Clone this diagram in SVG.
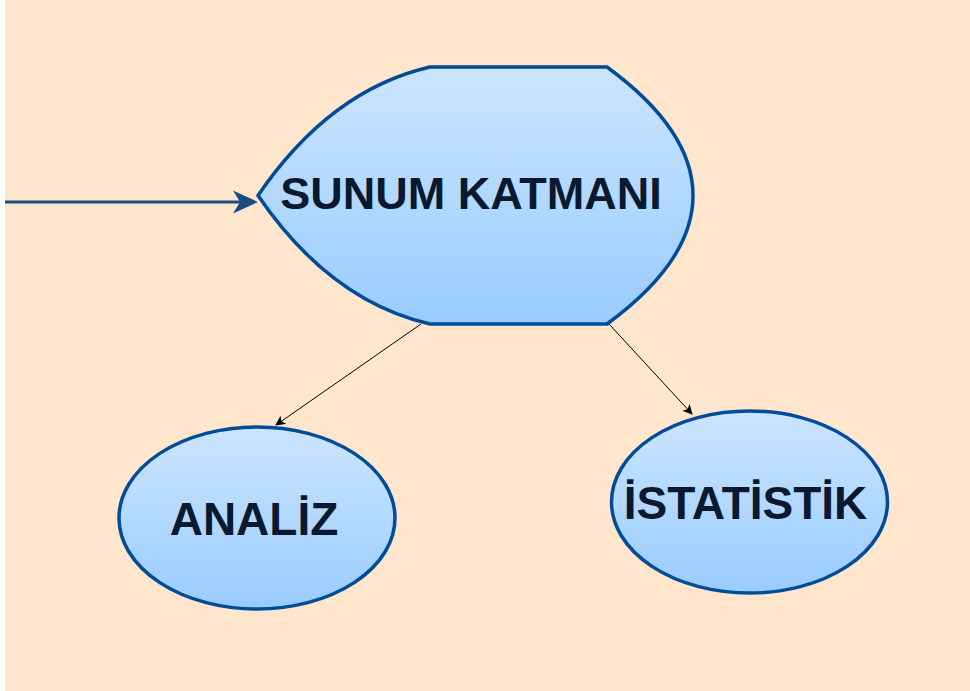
<svg xmlns="http://www.w3.org/2000/svg" width="970" height="691" viewBox="0 0 970 691">
<defs>
<linearGradient id="g" x1="0" y1="0" x2="0" y2="1">
<stop offset="0" stop-color="#CCE5FF"/>
<stop offset="1" stop-color="#99CCFF"/>
</linearGradient>
<marker id="ah" viewBox="0 0 10 10" refX="9" refY="5" markerWidth="10" markerHeight="10" markerUnits="userSpaceOnUse" orient="auto">
<path d="M0,0 L10,5 L0,10 L2.5,5 Z" fill="#000"/>
</marker>
</defs>
<style>
.n{fill:url(#g);stroke:#004C99;stroke-width:3.5}
.t{font-family:"Liberation Sans",Arial,sans-serif;font-weight:bold;fill:#0A1930;text-anchor:middle}
.c{stroke:#000;stroke-width:1;fill:none}
</style>
<rect x="0" y="0" width="970" height="691" fill="#FFFFFF"/>
<rect x="5" y="0" width="965" height="691" fill="#FFE6CC"/>
<g id="connectors">
<line x1="5" y1="202" x2="240" y2="202" stroke="#1A4C84" stroke-width="3"/>
<path d="M258,202 L233,190.5 L240,202 L233,213.5 Z" fill="#1A4C84"/>
<line class="c" x1="421" y1="324" x2="276" y2="425" marker-end="url(#ah)"/>
<line class="c" x1="609" y1="324" x2="692" y2="414" marker-end="url(#ah)"/>
</g>
<g id="sunum">
<path class="n" d="M430,67 L607,67 Q693,130 693,195.5 Q693,261 607,324 L430,324 Q330,301 258,195.5 Q330,90 430,67 Z"/>
<text class="t" x="471" y="209" font-size="45">SUNUM KATMANI</text>
</g>
<g id="analiz">
<ellipse class="n" cx="257" cy="518" rx="138" ry="91"/>
<text class="t" x="254" y="535" font-size="46">ANALİZ</text>
</g>
<g id="istatistik">
<ellipse class="n" cx="749.5" cy="502" rx="138" ry="91"/>
<text class="t" x="745.5" y="519" font-size="46">İSTATİSTİK</text>
</g>
</svg>
